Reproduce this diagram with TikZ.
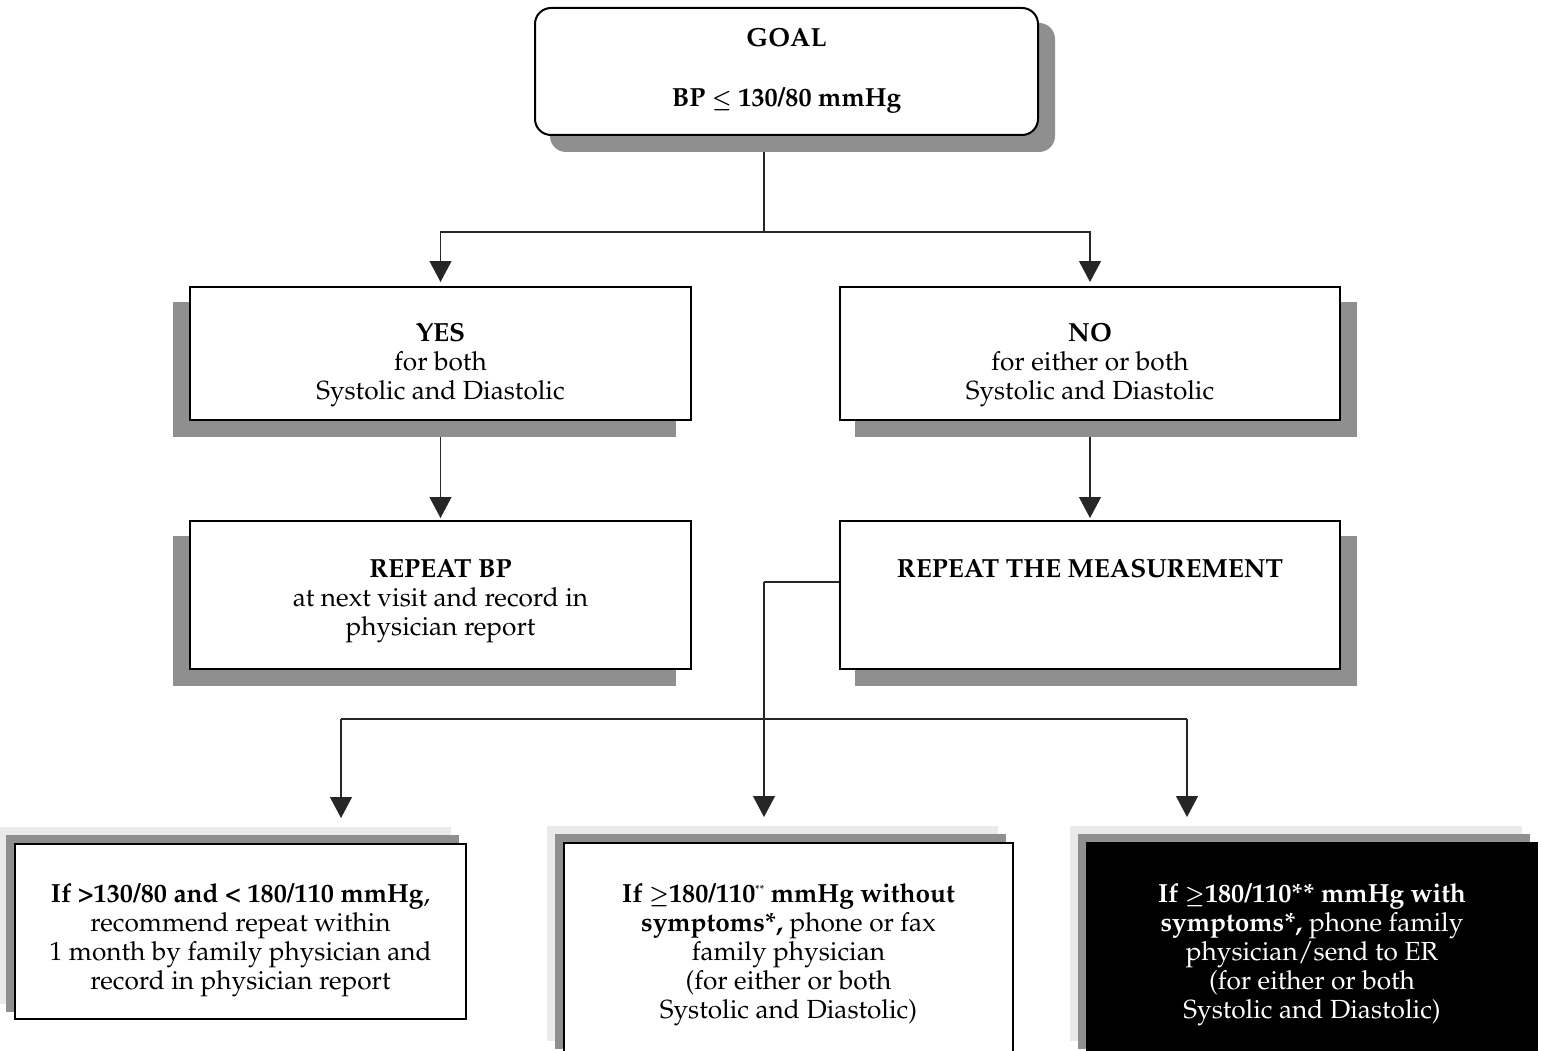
\documentclass[tikz,border=0pt]{standalone}
\usepackage[T1]{fontenc}
\usepackage{mathpazo}
\usetikzlibrary{arrows.meta,backgrounds}
\definecolor{shadowgray}{HTML}{8F8F8F}
\definecolor{lightshadow}{HTML}{EAEAEA}
\newcommand\lowered[2]{\raisebox{-#1}[\height][\depth]{\begin{tabular}{@{}c@{}}#2\end{tabular}}}
\newcommand\sleq{\scalebox{0.8}{\boldmath$\leq$}}
\newcommand\sgeq{\scalebox{0.8}{\boldmath$\geq$}}
\begin{document}
\begin{tikzpicture}[x=1pt,y=-1pt,
  box/.style={draw, line width=2pt, fill=white, inner sep=0pt,
    font=\fontsize{26.2}{29}\selectfont},
  conn/.style={line width=1.2pt, draw=black!85},
  arr/.style={conn, -{Triangle[width=22pt,length=21pt]}},
  shd/.style={fill=shadowgray},
  lshd/.style={fill=lightshadow}]
\useasboundingbox (0,0) rectangle (1541,1051);
% nodes
\node[box, rounded corners=16pt, minimum width=503pt, minimum height=127pt] (goal) at (786.5,71.5)
  {\lowered{-1pt}{\textbf{GOAL}\\[31pt] \textbf{BP \sleq\ 130/80 mmHg}}};
\node[box, minimum width=501pt, minimum height=133pt] (yes) at (440.5,353.5)
  {\lowered{11pt}{\textbf{YES}\\ for both\\ Systolic and Diastolic}};
\node[box, minimum width=500pt, minimum height=133pt] (no) at (1090,353.5)
  {\lowered{11pt}{\textbf{NO}\\ for either or both\\ Systolic and Diastolic}};
\node[box, minimum width=501pt, minimum height=148pt] (rep) at (440.5,595)
  {\lowered{5.5pt}{\textbf{REPEAT BP}\\ at next visit and record in\\ physician report}};
\node[box, minimum width=500pt, minimum height=148pt] (meas) at (1090,595)
  {\lowered{6pt}{\textbf{REPEAT THE MEASUREMENT}\\ \mbox{}\\ \mbox{}}};
\node[box, minimum width=451pt, minimum height=175pt] (left) at (240.5,931.5)
  {\lowered{9pt}{\textbf{If >130/80 and < 180/110 mmHg},\\ recommend repeat within\\ 1 month by family physician and\\ record in physician report}};
\node[box, minimum width=449pt, minimum height=213pt] (mid) at (788.5,949.5)
  {\lowered{5pt}{\textbf{If \sgeq180/110\raisebox{10pt}{\fontsize{10}{10}\selectfont **} mmHg without}\\ \textbf{symptoms*,} phone or fax\\ family physician\\ (for either or both\\ Systolic and Diastolic)}};
\node[box, fill=black, text=white, minimum width=450pt, minimum height=213pt] (right) at (1312,949.5)
  {\lowered{5pt}{\textbf{If \sgeq180/110** mmHg with}\\ \textbf{symptoms*,} phone family\\ physician/send to ER\\ (for either or both\\ Systolic and Diastolic)}};
% junction coordinates
\coordinate (j1) at (764,232);
\coordinate (m1) at (764,582);
\coordinate (h1) at (341,719);
\coordinate (h2) at (1187,719);
\begin{pgfonlayer}{background}
  % connectors
  \draw[conn] (goal.south -| j1) -- (j1);
  \draw[arr, shorten >=4pt] (j1) -| (yes.north);
  \draw[arr, shorten >=4pt] (j1) -| (no.north);
  \draw[arr, shorten >=2pt] (yes) -- (rep);
  \draw[arr, shorten >=2pt] (no) -- (meas);
  \draw[conn] (meas.west |- m1) -- (m1);
  \draw[arr, shorten >=25pt] (m1) -- (mid.north -| m1);
  \draw[conn] (h1) -- (h2);
  \draw[arr, shorten >=25pt] (h1) -- (left.north -| h1);
  \draw[arr, shorten >=25pt] (h2) -- (right.north -| h2);
  % shadows
  \fill[shd, rounded corners=16pt] ([shift={(16,16)}]goal.north west) rectangle ([shift={(16,16)}]goal.south east);
  \fill[shd] ([shift={(-16,16)}]yes.north west) rectangle ([shift={(-16,16)}]yes.south east);
  \fill[shd] ([shift={(16,16)}]no.north west) rectangle ([shift={(16,16)}]no.south east);
  \fill[shd] ([shift={(-16,16)}]rep.north west) rectangle ([shift={(-16,16)}]rep.south east);
  \fill[shd] ([shift={(16,16)}]meas.north west) rectangle ([shift={(16,16)}]meas.south east);
  \foreach \b in {left,mid,right}{
    \fill[lshd] ([shift={(-16,-16)}]\b.north west) rectangle ([shift={(-16,-16)}]\b.south east);
    \fill[shd] ([shift={(-8,-8)}]\b.north west) rectangle ([shift={(-8,-8)}]\b.south east);
  }
\end{pgfonlayer}
\end{tikzpicture}
\end{document}
